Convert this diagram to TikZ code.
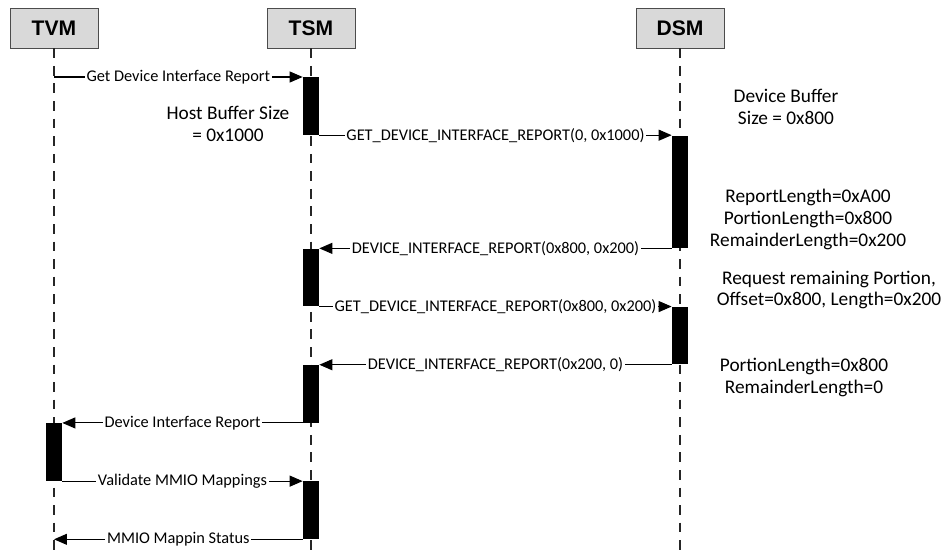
\documentclass[tikz,border=0pt]{standalone}
\usepackage{fontspec}
\setmainfont{Carlito}
\newfontfamily\headfont{Liberation Sans}
\usetikzlibrary{arrows.meta,positioning}

\begin{document}
\begin{tikzpicture}[
    x=0.02cm, y=-0.02cm,
    actor/.style={draw=black!70, fill=black!15, minimum width=1.76cm, minimum height=0.8cm, font=\headfont\bfseries\fontsize{12}{14}\selectfont},
    life/.style={draw=black!85, line width=0.9pt, dash pattern=on 5.5pt off 4.5pt},
    bar/.style={fill=black, inner sep=0pt, minimum width=0.32cm, minimum height=1.15cm, anchor=north},
    msg/.style={-{Triangle[length=0.26cm,width=0.22cm]}, line width=0.6pt},
    lbl/.style={fill=white, inner sep=1pt, font=\fontsize{9.3}{11}\selectfont},
    note/.style={align=center, font=\fontsize{11}{12.5}\selectfont}]
    \useasboundingbox (0,0) rectangle (948,550);
    % participants and lifelines
    \node[actor] (tvm) at (54,28) {TVM};
    \node[actor] (tsm) at (311,28) {TSM};
    \node[actor] (dsm) at (680,28) {DSM};
    \coordinate (bottom) at (0,550);
    \foreach \p in {tvm,tsm,dsm}
        \draw[life] (\p.south) -- (\p.south |- bottom);
    % activation bars
    \node[bar] (s1) at (311,77) {};
    \node[bar, minimum height=2.25cm] (d1) at (s1.south -| dsm.south) {};
    \node[bar] (s2) at (d1.south -| tsm.south) {};
    \node[bar] (d2) at (s2.south -| dsm.south) {};
    \node[bar] (s3) at (d2.south -| tsm.south) {};
    \node[bar] (v1) at (s3.south -| tvm.south) {};
    \node[bar] (s4) at (v1.south -| tsm.south) {};
    % messages
    \draw[msg] (s1.north west -| tvm.south) -- node[lbl] {Get Device Interface Report} (s1.north west);
    \draw[msg] (s1.south east) -- node[lbl] {GET\_DEVICE\_INTERFACE\_REPORT(0, 0x1000)} (d1.north west);
    \draw[msg] (d1.south west) -- node[lbl] {DEVICE\_INTERFACE\_REPORT(0x800, 0x200)} (s2.north east);
    \draw[msg] (s2.south east) -- node[lbl] {GET\_DEVICE\_INTERFACE\_REPORT(0x800, 0x200)} (d2.north west);
    \draw[msg] (d2.south west) -- node[lbl] {DEVICE\_INTERFACE\_REPORT(0x200, 0)} (s3.north east);
    \draw[msg] (s3.south west) -- node[lbl] {Device Interface Report} (v1.north east);
    \draw[msg] (v1.south east) -- node[lbl] {Validate MMIO Mappings} (s4.north west);
    \draw[msg] (s4.south west) -- node[lbl] {MMIO Mappin Status} (s4.south west -| tvm.south);
    % notes
    \node[note] (hostbuf) at (228,124) {Host Buffer Size\\= 0x1000};
    \node[note] (devbuf) at (786,107) {Device Buffer\\Size = 0x800};
    \node[note] (report) at (808,219) {ReportLength=0xA00\\PortionLength=0x800\\RemainderLength=0x200};
    \node[note] (request) at (829,290) {Request remaining Portion,\\Offset=0x800, Length=0x200};
    \node[note] (portion) at (804,377) {PortionLength=0x800\\RemainderLength=0};
\end{tikzpicture}
\end{document}
